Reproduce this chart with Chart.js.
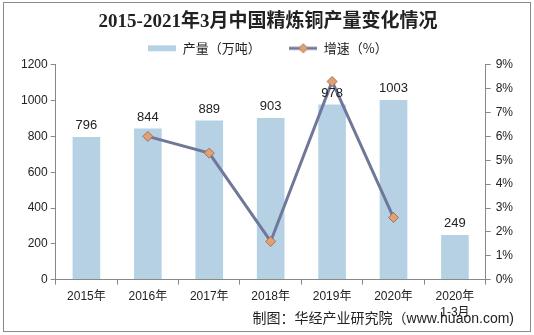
<!DOCTYPE html>
<html>
<head>
<meta charset="utf-8">
<script src="https://cdn.jsdelivr.net/npm/chart.js@4"></script>
<style>
  html, body { margin: 0; padding: 0; background: #fff; }
  #wrap { width: 534px; height: 335px; }
</style>
</head>
<body>
<div id="wrap"><canvas id="chart" width="534" height="335"></canvas></div>
<script>
const years = ["2015年", "2016年", "2017年", "2018年", "2019年", "2020年", ["2020年", "1-3月"]];
const output = [796, 844, 889, 903, 978, 1003, 249];     // 万吨
const growth = [null, 6.0, 5.3, 1.6, 8.3, 2.6, null];    // %
const leftTicks = [0, 1200, 200];
const rightTicks = [0, 9, 1];

const barColor = "#b7d1e4";
const lineColor = "#6f7898";

// legend swatches
function swatch(draw) {
  const c = document.createElement("canvas");
  c.width = 28; c.height = 12;
  draw(c.getContext("2d"));
  return c;
}
const barSwatch = swatch(g => { g.fillStyle = barColor; g.fillRect(0, 3, 28, 6); });
const lineSwatch = swatch(g => {
  g.strokeStyle = lineColor; g.lineWidth = 3;
  g.beginPath(); g.moveTo(0, 6); g.lineTo(28, 6); g.stroke();
  g.fillStyle = "#e3a173"; g.strokeStyle = "#a2705a"; g.lineWidth = 1;
  g.beginPath(); g.moveTo(14, 1.5); g.lineTo(18.5, 6); g.lineTo(14, 10.5); g.lineTo(9.5, 6); g.closePath();
  g.fill(); g.stroke();
});

// values above the bars, frame and source note
const extras = {
  id: "extras",
  afterDatasetsDraw(chart) {
    const ctx = chart.ctx;
    const meta = chart.getDatasetMeta(1);
    ctx.save();
    ctx.font = "13px 'Liberation Sans', Arial, sans-serif";
    ctx.fillStyle = "#222";
    ctx.textAlign = "center";
    ctx.textBaseline = "bottom";
    meta.data.forEach((bar, i) => {
      ctx.fillText(output[i], bar.x, bar.y - 5);
    });
    ctx.restore();
  },
  afterDraw(chart) {
    const ctx = chart.ctx;
    ctx.save();
    ctx.strokeStyle = "#8a8a8a";
    ctx.lineWidth = 1;
    ctx.strokeRect(3.5, 2.5, 527, 329);
    ctx.font = "14px 'Liberation Sans', 'Noto Sans CJK SC', sans-serif";
    ctx.fillStyle = "#222";
    ctx.textAlign = "right";
    ctx.textBaseline = "middle";
    ctx.fillText("制图：华经产业研究院（www.huaon.com)", 514, 319);
    ctx.restore();
  }
};

new Chart(document.getElementById("chart"), {
  data: {
    labels: years,
    datasets: [
      {
        type: "line",
        label: "增速（%）",
        data: growth,
        yAxisID: "y1",
        borderColor: lineColor,
        borderWidth: 3,
        pointStyle: "rectRot",
        pointRadius: 5,
        pointBackgroundColor: "#e3a173",
        pointBorderColor: "#a2705a",
        pointBorderWidth: 1,
        order: 0
      },
      {
        type: "bar",
        label: "产量（万吨）",
        data: output,
        yAxisID: "y",
        backgroundColor: barColor,
        categoryPercentage: 1,
        barPercentage: 0.45,
        order: 1
      }
    ]
  },
  options: {
    responsive: false,
    animation: false,
    layout: { padding: { left: 18, right: 16, top: 0, bottom: 10 } },
    plugins: {
      tooltip: { enabled: false },
      title: {
        display: true,
        text: "2015-2021年3月中国精炼铜产量变化情况",
        color: "#222",
        font: { size: 19, weight: "bold", family: "'Liberation Serif', 'Noto Sans CJK SC', serif" },
        padding: { top: 11, bottom: 2 }
      },
      legend: {
        display: true,
        labels: {
          usePointStyle: true,
          pointStyleWidth: 28,
          color: "#222",
          font: { size: 13, family: "'Noto Sans CJK SC', sans-serif" },
          padding: 6,
          generateLabels() {
            return [
              { text: "产量（万吨）\u3000\u3000 ", pointStyle: barSwatch, datasetIndex: 1, fontColor: "#222" },
              { text: "增速（%）", pointStyle: lineSwatch, datasetIndex: 0, fontColor: "#222" }
            ];
          }
        }
      }
    },
    scales: {
      x: {
        offset: true,
        grid: { offset: true, drawOnChartArea: false, color: "#888", tickLength: 5 },
        border: { color: "#888" },
        ticks: { color: "#222", font: { size: 12, lineHeight: 1.35, family: "'Liberation Sans', 'Noto Sans CJK SC', sans-serif" }, maxRotation: 0, autoSkip: false, padding: 4 }
      },
      y: {
        position: "left",
        min: leftTicks[0], max: leftTicks[1],
        grid: { drawOnChartArea: false, color: "#888", tickLength: 5 },
        border: { color: "#888" },
        ticks: { stepSize: leftTicks[2], color: "#222", font: { size: 12, family: "'Liberation Sans', sans-serif" }, padding: 3, callback: v => String(v) }
      },
      y1: {
        position: "right",
        min: rightTicks[0], max: rightTicks[1],
        grid: { drawOnChartArea: false, color: "#888", tickLength: 5 },
        border: { color: "#888" },
        ticks: { stepSize: rightTicks[2], color: "#222", font: { size: 12, family: "'Liberation Sans', sans-serif" }, padding: 5, callback: v => v + "%" }
      }
    }
  },
  plugins: [extras]
});
</script>
</body>
</html>
